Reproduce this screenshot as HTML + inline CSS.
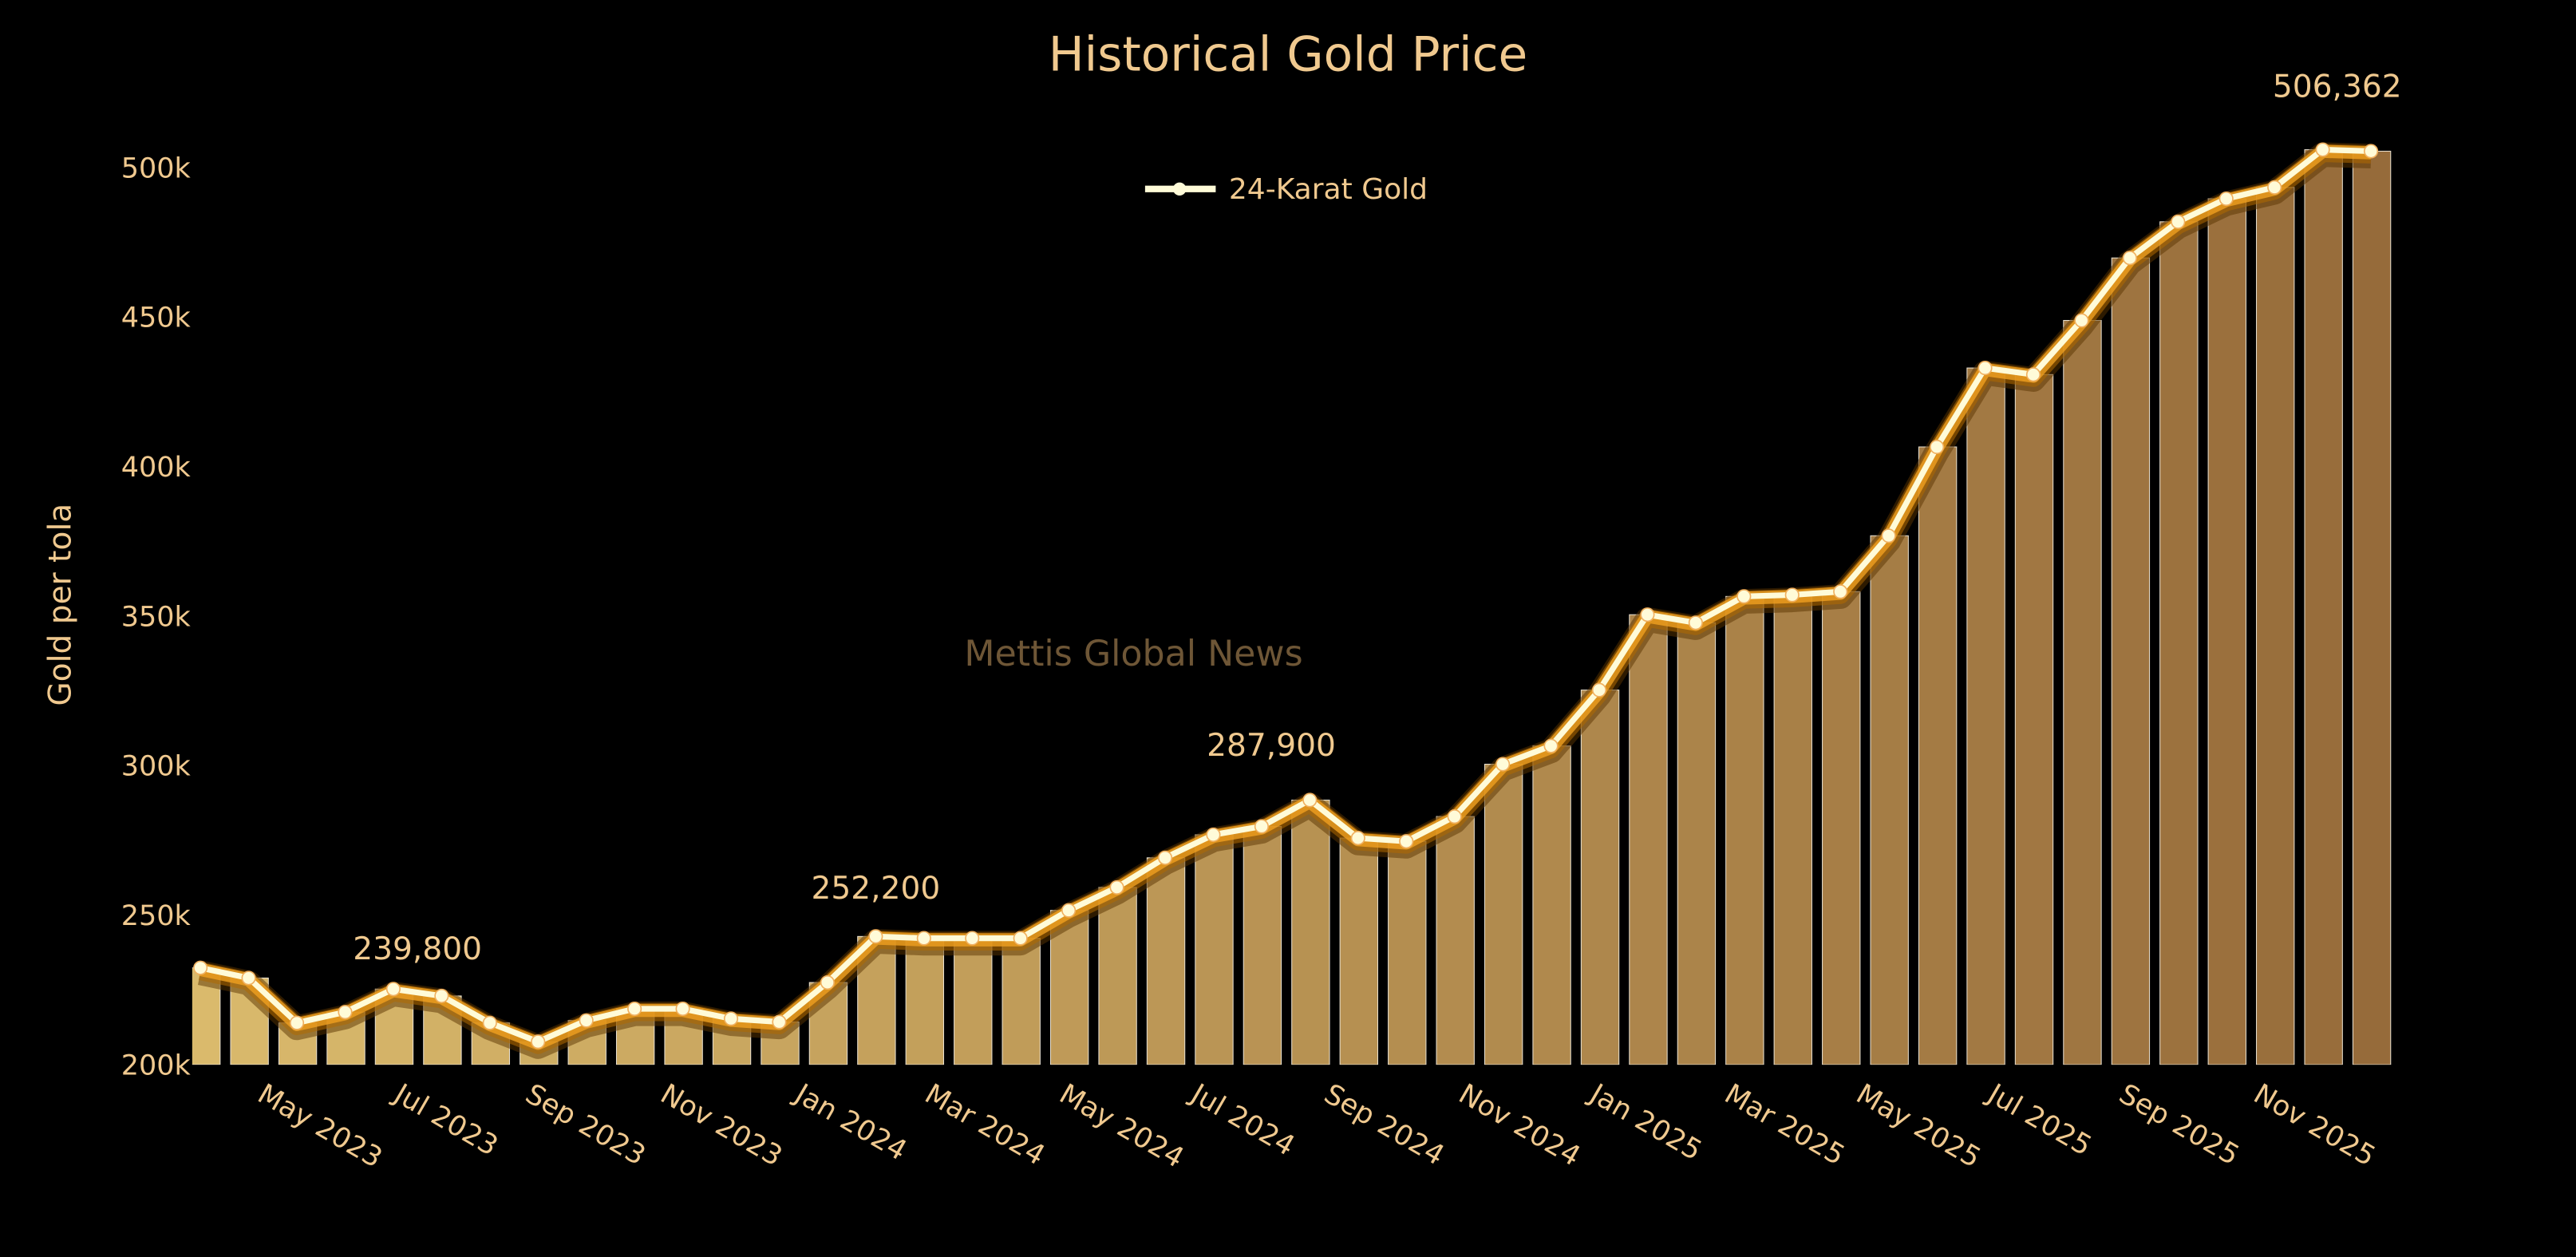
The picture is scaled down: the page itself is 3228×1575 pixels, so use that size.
<!DOCTYPE html>
<html><head><meta charset="utf-8"><style>
html,body{margin:0;padding:0;background:#000;}
svg{display:block;font-family:"DejaVu Sans","Liberation Sans",sans-serif;}
</style></head><body>
<svg id="chart" width="3228" height="1575" viewBox="0 0 1568 765" xmlns="http://www.w3.org/2000/svg">
<defs><clipPath id="plotclip"><rect x="117" y="0" width="1340" height="648"/></clipPath></defs>
<rect width="1568" height="765" fill="#000"/>
<text x="784" y="43" text-anchor="middle" font-size="29" fill="#f0c98f">Historical Gold Price</text>
<text x="690" y="405" text-anchor="middle" font-size="21.5" fill="#6e5636">Mettis Global News</text>
<text transform="translate(43,368) rotate(-90)" text-anchor="middle" font-size="19" fill="#f0c98f">Gold per tola</text>
<g id="yticks"></g>
<g id="xticks"></g>
<g id="bars" clip-path="url(#plotclip)"></g>
<g id="line"></g>
<g id="annots"></g>
<g>
<line x1="697" y1="115" x2="740" y2="115" stroke="#fffbd8" stroke-width="4"/>
<circle cx="718" cy="115" r="4" fill="#fffbd8"/>
<text x="748" y="121" font-size="17.5" fill="#f0c98f">24-Karat Gold</text>
</g>
</svg>
<script>
const values = [232.4,229,214,217.6,225.3,223,214,207.7,214.8,218.7,218.7,215.4,214.3,227.5,242.9,242.3,242.3,242.3,251.6,259.3,269.2,276.9,279.7,288.5,275.8,274.7,283,300.5,306.6,325.3,350.5,347.8,356.6,357.1,358.2,376.9,406.6,433,430.8,448.9,469.8,481.9,489.6,493.4,506,505.5];
const yTickValues = [200,250,300,350,400,450,500];
const xTickLabels = ["May 2023","Jul 2023","Sep 2023","Nov 2023","Jan 2024","Mar 2024","May 2024","Jul 2024","Sep 2024","Nov 2024","Jan 2025","Mar 2025","May 2025","Jul 2025","Sep 2025","Nov 2025"];
const xTickIndex = [1.25,4.08,6.8,9.6,12.39,15.08,17.87,20.6,23.36,26.15,28.87,31.66,34.39,37.12,39.84,42.63];
const annotLabels = ["239,800","252,200","287,900","506,362"];
const annotIndex = [4.5,14,22.2,44.3];
const annotYValue = [235.2,255.5,303.3,523.6];

const NS="http://www.w3.org/2000/svg";
function xs(i){return 122+i*29.36;}
function ys(v){return 648-(v-200)*546/300;}
function mk(tag,attrs,parent){const e=document.createElementNS(NS,tag);for(const k in attrs)e.setAttribute(k,attrs[k]);parent.appendChild(e);return e;}
const yg=document.getElementById('yticks'),xg=document.getElementById('xticks'),bg=document.getElementById('bars'),lg=document.getElementById('line'),ag=document.getElementById('annots');
yTickValues.forEach(v=>{const t=mk('text',{x:116,y:ys(v)+6,'text-anchor':'end','font-size':'17',fill:'#f0c98f'},yg);t.textContent=v+'k';

});
xTickLabels.forEach((l,k)=>{const x=xs(xTickIndex[k]);const t=mk('text',{x:x,y:670,'font-size':'17',fill:'#f0c98f',transform:`rotate(30 ${x} 664)`},xg);t.textContent=l;

});
const n=values.length;
function lerp(a,b,t){return Math.round(a+(b-a)*t);}
values.forEach((v,i)=>{const t=i/(n-1);const c=`rgb(${lerp(218,150,t)},${lerp(186,107,t)},${lerp(108,58,t)})`;
const r=mk('rect',{x:xs(i)-11,y:ys(v),width:23,height:648-ys(v),fill:c,stroke:'#e8e0d0','stroke-width':'0.5'},bg);

});
const pts=values.map((v,i)=>xs(i)+','+ys(v)).join(' ');
[[15,'#5a3400',0.5,3],[11,'#b06a00',0.55,2],[8,'#f0a020',0.8,1]].forEach(([w,c,o,dy])=>{
const p=mk('polyline',{points:pts,fill:'none',stroke:c,'stroke-width':w,'stroke-opacity':o,'stroke-linejoin':'round',transform:`translate(0 ${dy})`},lg);

});
const main=mk('polyline',{points:pts,fill:'none',stroke:'#fffbd8','stroke-width':3.5,'stroke-linejoin':'round'},lg);


values.forEach((v,i)=>{const c=mk('circle',{cx:xs(i),cy:ys(v),r:4,fill:'#fffbd8',stroke:'#f0b060','stroke-width':'0.8'},lg);

});
annotLabels.forEach((l,k)=>{const t=mk('text',{x:xs(annotIndex[k]),y:ys(annotYValue[k]),'text-anchor':'middle','font-size':'19',fill:'#f0c98f'},ag);t.textContent=l;

});
</script>
</body></html>
